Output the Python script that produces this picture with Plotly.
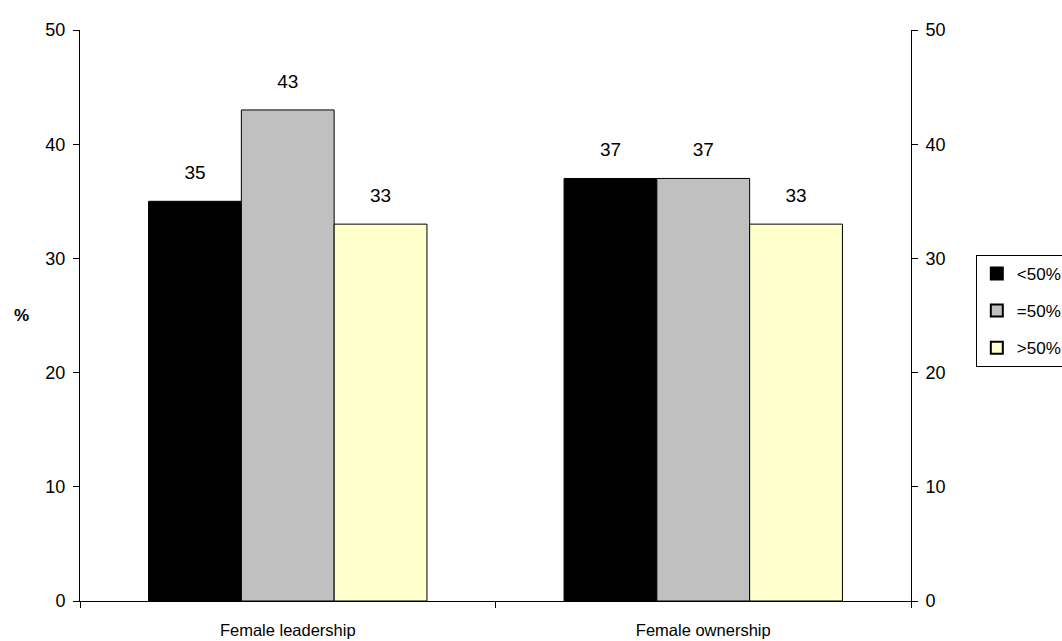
import plotly.graph_objects as go

categories = ["Female leadership", "Female ownership"]
series_names = ["<50%", "=50%", ">50%"]
lt50 = [35, 37]
eq50 = [43, 37]
gt50 = [33, 33]
colors = ["#000000", "#C0C0C0", "#FFFFCC"]

FONT = "Liberation Sans, Arial"

fig = go.Figure()
for i, (name, vals, col) in enumerate(zip(series_names, [lt50, eq50, gt50], colors)):
    fig.add_trace(go.Bar(
        x=categories, y=vals, name=name, offsetgroup=str(i),
        legendgroup=str(i),
        marker=dict(color=col, line=dict(color="#000000", width=1)),
        hoverinfo="skip",
    ))
    fig.add_trace(go.Scatter(
        x=categories, y=vals, offsetgroup=str(i), mode="markers+text",
        marker=dict(size=26, opacity=0),
        text=[str(v) for v in vals], textposition="top center",
        textfont=dict(family=FONT, size=19, color="#000000"),
        showlegend=False, hoverinfo="skip", cliponaxis=False,
    ))

# invisible trace for right axis
fig.add_trace(go.Scatter(x=categories, y=[0, 0], yaxis="y2", mode="markers",
                         marker=dict(opacity=0), showlegend=False, hoverinfo="skip"))

fig.update_layout(
    width=1062, height=641,
    margin=dict(l=80, r=151, t=30, b=40, autoexpand=False),
    plot_bgcolor="white", paper_bgcolor="white",
    barmode="group", bargap=0.33, bargroupgap=0,
    scattermode="group", scattergap=0.33,
    font=dict(family=FONT, size=18, color="#000000"),
    xaxis=dict(showline=True, linecolor="#000000", linewidth=1,
               ticks="outside", ticklen=6, tickcolor="#000000",
               tickson="boundaries", showgrid=False,
               tickfont=dict(size=16.5), ticklabelstandoff=14),
    yaxis=dict(range=[0, 50], dtick=10, showline=True, linecolor="#000000", linewidth=1,
               ticks="outside", ticklen=6, tickcolor="#000000", showgrid=False,
               zeroline=False, tickfont=dict(size=18), ticklabelstandoff=4),
    yaxis2=dict(range=[0, 50], dtick=10, overlaying="y", side="right",
                showline=True, linecolor="#000000", linewidth=1,
                ticks="outside", ticklen=6, tickcolor="#000000", showgrid=False,
                zeroline=False, tickfont=dict(size=18), ticklabelstandoff=4),
    legend=dict(x=1.078, y=0.606, xanchor="left", yanchor="top",
                bordercolor="#000000", borderwidth=1, bgcolor="white",
                font=dict(size=17), tracegroupgap=12, itemsizing="constant",
                itemwidth=30),
    annotations=[dict(text="<b>%</b>", xref="paper", yref="paper",
                      x=-0.07, y=0.5, xanchor="center", yanchor="middle",
                      showarrow=False, font=dict(size=17))],
    showlegend=True,
)

fig.write_html("out.html")
